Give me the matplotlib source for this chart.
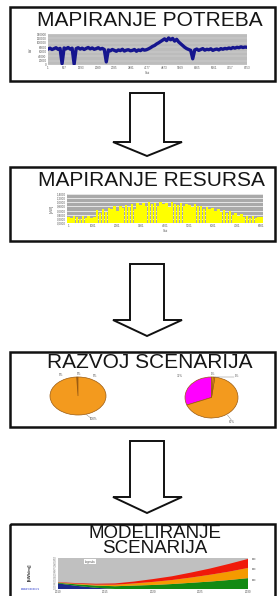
import matplotlib
matplotlib.use("Agg")
import matplotlib.pyplot as plt
from matplotlib.patches import Rectangle, Polygon
import numpy as np

plt.rcParams['font.family'] = ['Liberation Sans', 'DejaVu Sans']

#---------------------------------------------------------------------------------------------------
# Podaci

naslovi = ["MAPIRANJE POTREBA", "MAPIRANJE RESURSA", "RAZVOJ SCENARIJA", "MODELIRANJE\nSCENARIJA"]

# potrosnja (kW, u hiljadama)
potrebe = [72, 76, 70, 74, 78, 71, 75,
           6,
           77, 73, 79, 72, 76,
           4,
           74, 78, 72, 76, 70, 75, 79, 73, 77, 71, 74, 78, 72, 75, 70,
           14,
           68, 64, 70, 66, 62, 68, 65, 71, 63, 67, 69, 64, 66, 70, 62, 68, 65, 71, 67, 69, 73,
           78, 84, 88, 95, 100, 106, 112,
           118, 110, 122, 114, 120, 108, 116,
           104, 96, 88, 80, 74,
           70, 66,
           28,
           68, 72, 66, 70, 74, 67, 71, 69, 73, 66, 70, 72, 68, 74, 71, 75,
           73, 77, 74, 79, 76, 80, 78, 82, 79, 81, 80]
potrebe_yticks = ["0", "20000", "40000", "60000", "80000", "100000", "120000", "140000"]
potrebe_xticks = ["1", "697", "1393", "2089", "2785", "3481", "4177", "4873",
                  "5569", "6265", "6961", "7657", "8353"]

# resurs (kW)
resurs = [0.30, 0.22, 0.34, 0.28, 0.18, 0.32, 0.26, 0.36, 0.24, 0.30,
          0.62, 0.48, 0.70, 0.55, 0.74, 0.66, 0.80, 0.58, 0.84, 0.72,
          0.88, 0.76, 0.92, 0.70, 0.96, 0.86, 0.98, 0.80, 1.00, 0.90,
          0.96, 0.84, 1.02, 0.92, 0.98, 0.78, 1.00, 0.94, 0.88, 0.96,
          0.82, 0.92, 0.86, 0.76, 0.90, 0.80, 0.84, 0.70, 0.78, 0.66,
          0.74, 0.60, 0.68, 0.54, 0.62, 0.48, 0.56, 0.40, 0.46, 0.36,
          0.42, 0.30, 0.36, 0.26, 0.32, 0.22, 0.30, 0.28]
resurs_yticks = ["0,0000", "0,2000", "0,4000", "0,6000", "0,8000", "1,0000", "1,2000", "1,4000"]
resurs_xticks = ["1", "1001", "2001", "3001", "4001", "5001", "6001", "7001", "8001"]

# scenariji
pita1 = [0.4, 0.4, 99.2]
pita1_labele = ["0%", "0%", "0%", "100%"]
pita2 = [31, 67, 1, 1]
pita2_labele = ["31%", "67%", "1%", "1%"]

# modeliranje
godine = [2010, 2012, 2014, 2016, 2018, 2020, 2022, 2024, 2026, 2028, 2030]
sloj_plavi = [0.18, 0.10, 0.04, 0, 0, 0, 0, 0, 0, 0, 0]
sloj_zeleni = [0.02, 0.05, 0.07, 0.09, 0.11, 0.13, 0.16, 0.20, 0.24, 0.29, 0.35]
sloj_narandz = [0.01, 0.02, 0.03, 0.05, 0.07, 0.10, 0.13, 0.17, 0.22, 0.27, 0.33]
sloj_crveni = [0.01, 0.02, 0.03, 0.04, 0.06, 0.09, 0.12, 0.16, 0.20, 0.25, 0.29]
model_xticks = ["2010", "2015", "2020", "2025", "2030"]

#---------------------------------------------------------------------------------------------------
W, H = 277, 596
fig = plt.figure(figsize=(W / 100, H / 100), dpi=100)
fig.patch.set_facecolor('white')

ax0 = fig.add_axes([0, 0, 1, 1])
ax0.set_xlim(0, W)
ax0.set_ylim(H, 0)
ax0.axis('off')

def px_axes(x0, y0, x1, y1):
    return fig.add_axes([x0 / W, 1 - y1 / H, (x1 - x0) / W, (y1 - y0) / H])

# okviri
for (y, h) in [(7, 74), (167, 74), (352, 75), (524, 90)]:
    ax0.add_patch(Rectangle((10, y), 265, h, fill=False, lw=1.8, ec='#111111'))

# strelice
for (top, base, tip) in [(93, 142, 156), (264, 320, 336), (441, 497, 513)]:
    pts = [(130, top), (164, top), (164, base), (182, base), (147, tip),
           (113, base), (130, base)]
    ax0.add_patch(Polygon(pts, closed=True, fill=False, lw=1.4, ec='#111111'))

# naslovi
ax0.text(150, 21, naslovi[0], ha='center', va='center', fontsize=15, color='#151515')
ax0.text(151, 181, naslovi[1], ha='center', va='center', fontsize=15, color='#151515')
ax0.text(150, 362, naslovi[2], ha='center', va='center', fontsize=15, color='#151515')
ax0.text(155, 541, naslovi[3], ha='center', va='center', fontsize=13.5, color='#151515',
         linespacing=0.85)

sitno = dict(fontsize=2.2, color='#555555')

#---------------------------------------------------------------------------------------------------
# 1. potrebe
ax1 = px_axes(48, 34, 247, 65)
ax1.set_facecolor('#bcbcbc')
ax1.plot(np.arange(len(potrebe)), potrebe, color='#15158e', lw=2.4)
ax1.set_xlim(0, len(potrebe) - 1)
ax1.set_ylim(0, 140)
ax1.set_yticks(np.arange(0, 141, 20))
ax1.set_yticklabels(potrebe_yticks, **sitno)
ax1.set_xticks(np.linspace(0, len(potrebe) - 1, len(potrebe_xticks)))
ax1.set_xticklabels(potrebe_xticks, **sitno)
ax1.tick_params(length=0, pad=1)
ax1.grid(axis='y', color='white', lw=0.3, alpha=0.5)
ax1.set_axisbelow(True)
ax1.set_xlabel("Sati", labelpad=0.5, **sitno)
ax1.set_ylabel("kW", labelpad=3, **sitno)
for s in ax1.spines.values():
    s.set_visible(False)

# 2. resursi
ax2 = px_axes(67, 194, 263, 223)
ax2.set_facecolor('#a9a9a9')
ax2.bar(np.arange(len(resurs)), resurs, width=0.85, color='#ffff00', zorder=2)
ax2.set_xlim(-0.5, len(resurs) - 0.5)
ax2.set_ylim(0, 1.4)
ax2.set_yticks(np.arange(0, 1.41, 0.2))
ax2.set_yticklabels(resurs_yticks, **sitno)
ax2.set_xticks(np.linspace(0, len(resurs) - 1, len(resurs_xticks)))
ax2.set_xticklabels(resurs_xticks, **sitno)
ax2.tick_params(length=0, pad=1)
ax2.grid(axis='y', color='white', lw=0.5)
ax2.set_axisbelow(True)
ax2.set_xlabel("Sati", labelpad=0.5, **sitno)
ax2.set_ylabel("[kW]", labelpad=2, fontsize=3, color='#555555')
for s in ax2.spines.values():
    s.set_visible(False)

# 3. scenariji
narandz = '#f39a1e'
ax3 = px_axes(50, 377, 106, 415)
ax3.pie(pita1, colors=[narandz] * 3, startangle=90,
        wedgeprops=dict(edgecolor='#9a5a10', linewidth=0.5))
ax3.set_aspect('auto')
ax3.set_xlim(-1, 1)
ax3.set_ylim(-1, 1)
ax3.text(-0.6, 1.05, pita1_labele[0], ha='center', **sitno)
ax3.text(0.05, 1.12, pita1_labele[1], ha='center', **sitno)
ax3.text(0.6, 1.02, pita1_labele[2], ha='center', **sitno)
ax3.text(0.55, -1.25, pita1_labele[3], ha='center', **sitno)
ax3.plot([0.3, 0.45], [-0.98, -1.15], color='#777777', lw=0.3, clip_on=False)

ax4 = px_axes(185, 377, 238, 418)
ax4.pie(pita2, colors=['#ff00ff', narandz, narandz, narandz], startangle=90,
        wedgeprops=dict(edgecolor='#9a5a10', linewidth=0.5))
ax4.set_aspect('auto')
ax4.set_xlim(-1, 1)
ax4.set_ylim(-1, 1)
ax4.text(-1.2, 1.0, pita2_labele[0], ha='center', **sitno)
ax4.text(0.75, -1.25, pita2_labele[1], ha='center', **sitno)
ax4.text(0.05, 1.1, pita2_labele[2], ha='center', **sitno)
ax4.text(0.95, 1.0, pita2_labele[3], ha='center', **sitno)
ax4.plot([0.6, 0.75], [-0.85, -1.1], color='#777777', lw=0.3, clip_on=False)
ax4.plot([0.15, 0.85], [0.98, 0.98], color='#777777', lw=0.3, clip_on=False)

# 4. modeliranje
ax5 = px_axes(58, 558, 248, 589)
ax5.set_facecolor('#c0c0c0')
ax5.stackplot(godine, sloj_plavi, sloj_zeleni, sloj_narandz, sloj_crveni,
              colors=['#1c2a8c', '#138a13', '#f59a00', '#f01a0a'])
ax5.set_xlim(godine[0], godine[-1])
ax5.set_ylim(0, 1)
ax5.set_xticks(np.linspace(godine[0], godine[-1], len(model_xticks)))
ax5.set_xticklabels(model_xticks, **sitno)
ax5.set_yticks(np.arange(0, 1.01, 0.1))
ax5.set_yticklabels(["%.1f" % v for v in np.arange(0, 1.01, 0.1)], fontsize=1.8, color='#777777')
ax5.tick_params(length=0, pad=1)
for s in ax5.spines.values():
    s.set_visible(False)
ax5.text(0.14, 0.85, "Legenda", transform=ax5.transAxes, fontsize=2, color='#555555',
         bbox=dict(facecolor='white', edgecolor='none', pad=0.6))
ax5.text(1.02, 0.95, "xxx", transform=ax5.transAxes, **sitno)
ax5.text(1.02, 0.62, "xxx", transform=ax5.transAxes, **sitno)
ax5.text(1.02, 0.25, "xxx", transform=ax5.transAxes, **sitno)
ax0.text(30, 572, "[kWh/mj]", rotation=90, ha='center', va='center', fontsize=3,
         fontweight='bold', color='#333333')
ax0.text(30, 589, "www.xxxxx.rs", ha='center', va='center', fontsize=2.2, color='#2233cc')

fig.savefig("out.png", dpi=100)
